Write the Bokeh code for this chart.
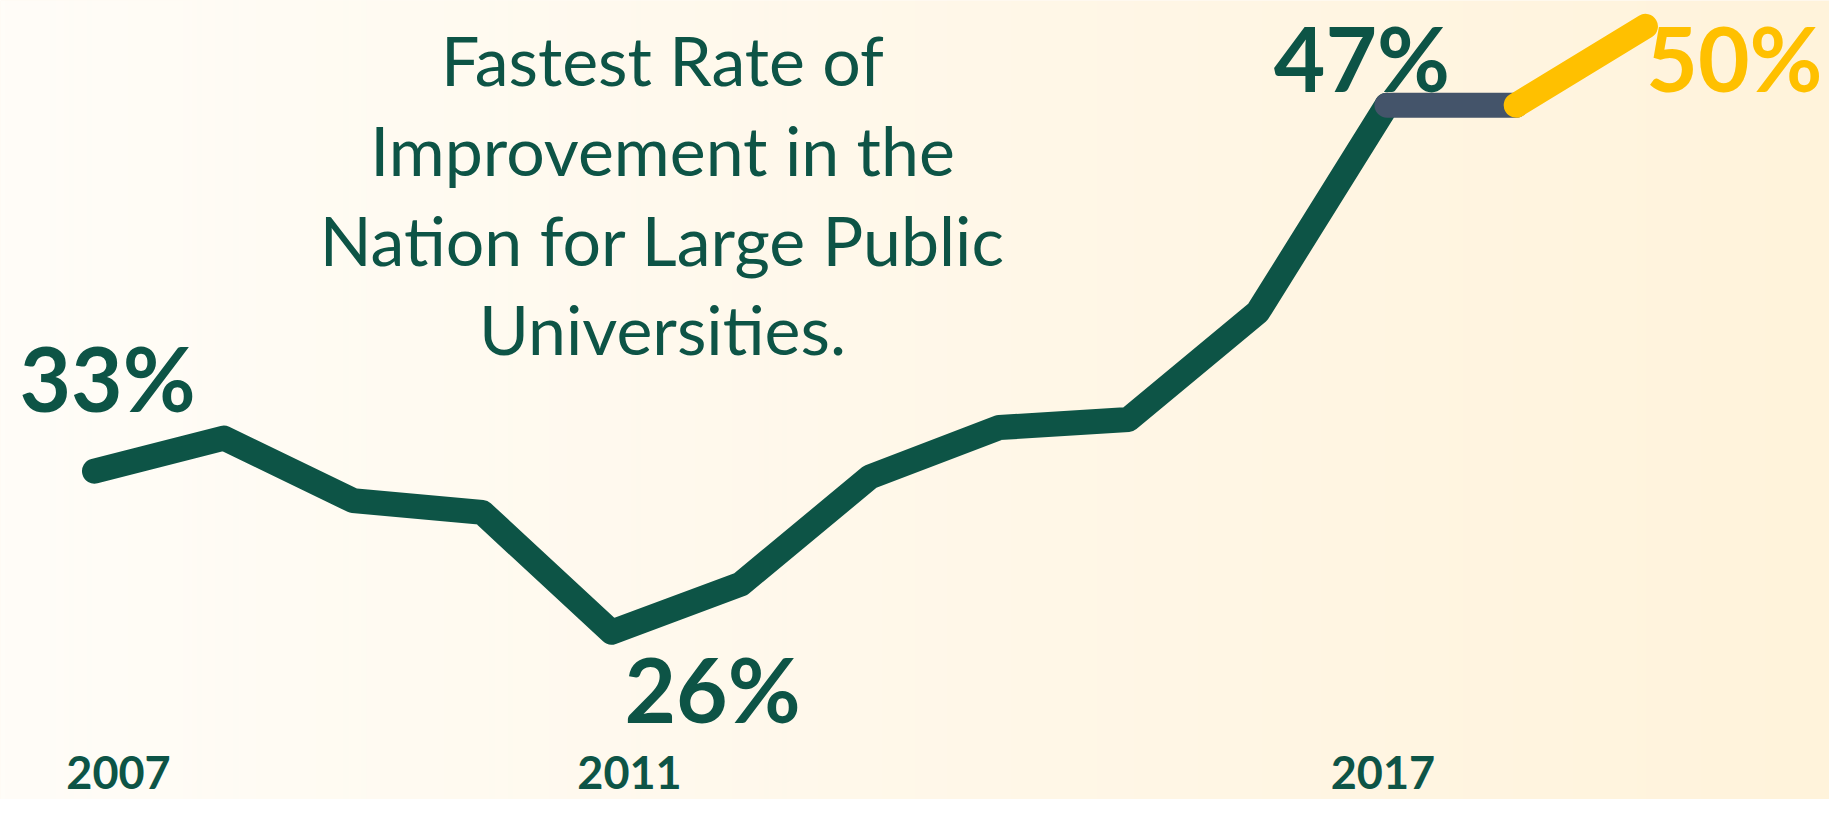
import numpy as np
from bokeh.plotting import figure
from bokeh.models import Range1d, Label, ColumnDataSource
from bokeh.core.properties import value
from bokeh.embed import file_html
from bokeh.resources import INLINE

# ---- data ----
years = [2007, 2008, 2009, 2010, 2011, 2012, 2013, 2014, 2015, 2016, 2017, 2018, 2019]
rates = [33.07, 34.33, 31.95, 31.5, 26.94, 28.77, 32.85, 34.73, 35.04, 39.12, 47.0, 47.0, 50.0]

label_years = [2007, 2011, 2017, 2019]
label_texts = ["33%", "26%", "47%", "50%"]

tick_years = [2007, 2011, 2017]
tick_labels = ["2007", "2011", "2017"]

title_lines = ["Fastest Rate of", "Improvement in the",
               "Nation for Large Public", "Universities."]

# ---- styles ----
GREEN = "#0D5446"
GREY = "#44546A"
YELLOW = "#FFC000"
W, H = 1829, 799
X0, X1 = 2006.2727, 2020.424
Y0, Y1 = 20.571, 50.986
BASE_SHIFT = 0.35  # em, compensation for baseline placement

def fig_y_to_data(fy):
    return Y1 - fy * (Y1 - Y0) / H

def fig_x_to_data(fx):
    return X0 + fx * (X1 - X0) / W

p = figure(width=W, height=H, x_range=Range1d(X0, X1), y_range=Range1d(Y0, Y1),
           toolbar_location=None, output_backend="svg", min_border=0)
p.axis.visible = False
p.grid.visible = False
p.outline_line_color = None
p.background_fill_color = "#FFF8EA"
p.border_fill_color = "#FFF8EA"

# background gradient
n = 400
left = np.array([255, 253, 248], dtype=float)
right = np.array([255, 243, 219], dtype=float)
t = np.linspace(0, 1, n)[:, None]
cols = (left * (1 - t) + right * t).astype(np.uint32)
img = np.zeros((2, n), dtype=np.uint32)
view = img.view(dtype=np.uint8).reshape((2, n, 4))
for r in range(2):
    view[r, :, 0] = cols[:, 0]
    view[r, :, 1] = cols[:, 1]
    view[r, :, 2] = cols[:, 2]
    view[r, :, 3] = 255
p.image_rgba(image=[img], x=X0, y=Y0, dw=X1 - X0, dh=Y1 - Y0)

# lines
p.line(years[0:11], rates[0:11], line_color=GREEN, line_width=25,
       line_cap="round", line_join="round")
p.line(years[10:12], rates[10:12], line_color=GREY, line_width=25, line_cap="round")
p.line(years[11:13], rates[11:13], line_color=YELLOW, line_width=25, line_cap="round")

# value labels
VFS = 89
vshift = BASE_SHIFT * VFS
lab_y = [rates[years.index(y)] for y in label_years]
src = ColumnDataSource(dict(x=label_years, y=lab_y, text=label_texts,
                            xo=[13, 101, -25, 89],
                            yo=[-63 - vshift, 87 - vshift, -17 - vshift, 62 - vshift],
                            color=[GREEN, GREEN, GREEN, YELLOW]))
p.text(x="x", y="y", text="text", x_offset="xo", y_offset="yo", source=src,
       text_color="color", text_font=value("Lato"), text_font_style="bold",
       text_font_size=f"{VFS}px", text_align="center", text_baseline="alphabetic")

# year labels
YFS = 45
tsrc = ColumnDataSource(dict(x=tick_years, y=[Y0] * len(tick_years), text=tick_labels,
                             xo=[24, 18, -4]))
p.text(x="x", y="y", text="text", x_offset="xo", y_offset=-(H - 788) - BASE_SHIFT * YFS,
       source=tsrc, text_color=GREEN, text_font=value("Lato"), text_font_style="bold",
       text_font_size=f"{YFS}px", text_align="center", text_baseline="alphabetic")

# title block
TFS = 68
baselines = [83, 173, 263, 352]
for line, b in zip(title_lines, baselines):
    p.add_layout(Label(x=fig_x_to_data(662), y=fig_y_to_data(b - BASE_SHIFT * TFS),
                       text=line, text_color=GREEN, text_font="Lato",
                       text_font_size=f"{TFS}px",
                       text_align="center", text_baseline="alphabetic"))

open("out.html", "w").write(file_html(p, INLINE))
